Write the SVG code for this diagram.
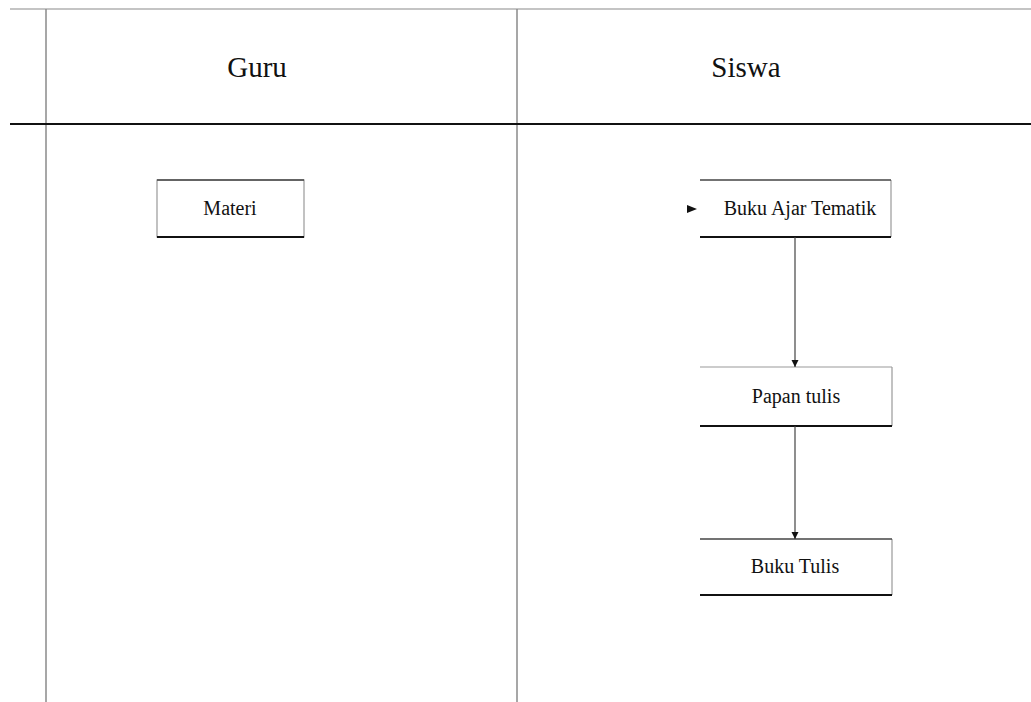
<svg xmlns="http://www.w3.org/2000/svg" width="1031" height="702" viewBox="0 0 1031 702">
  <style>
    .lane { stroke: #8a8a8a; stroke-width: 1.5; fill: none; }
    .frame { stroke: #b0b0b0; stroke-width: 1.5; fill: none; }
    .header-rule { stroke: #111; stroke-width: 2.2; }
    .title { font-family: "Liberation Serif", "Times New Roman", serif; font-size: 29px; fill: #111; text-anchor: middle; }
    .label { font-family: "Liberation Serif", "Times New Roman", serif; font-size: 20px; fill: #111; text-anchor: middle; }
    .box-side { stroke: #999; stroke-width: 1.2; fill: none; }
    .box-top { stroke: #444; stroke-width: 1.6; }
    .box-bottom { stroke: #111; stroke-width: 2; }
    .flow { stroke: #444; stroke-width: 1.2; fill: none; }
  </style>
  <defs>
    <marker id="arrow" viewBox="0 0 10 10" refX="10" refY="5" markerWidth="7" markerHeight="8" orient="auto-start-reverse" markerUnits="userSpaceOnUse">
      <path d="M0,0 L10,5 L0,10 Z" fill="#111"/>
    </marker>
  </defs>

  <rect width="1031" height="702" fill="#ffffff"/>

  <!-- swimlane frame -->
  <g id="lanes">
    <line class="frame" x1="10" y1="9" x2="1031" y2="9"/>
    <line class="lane" x1="46" y1="9" x2="46" y2="702"/>
    <line class="lane" x1="517" y1="9" x2="517" y2="702"/>
    <line class="header-rule" x1="10" y1="124" x2="1031" y2="124"/>
    <text class="title" x="257" y="77">Guru</text>
    <text class="title" x="746" y="77">Siswa</text>
  </g>

  <g id="node-materi">
    <rect class="box-side" x="157" y="180" width="147" height="57"/>
    <line class="box-top" x1="157" y1="180" x2="304" y2="180"/>
    <line class="box-bottom" x1="157" y1="237" x2="304" y2="237"/>
    <text class="label" x="230" y="215">Materi</text>
  </g>

  <g id="node-buku-ajar">
    <line class="box-side" x1="891" y1="180" x2="891" y2="237"/>
    <line class="box-top" x1="700" y1="180" x2="891" y2="180"/>
    <line class="box-bottom" x1="700" y1="237" x2="891" y2="237"/>
    <text class="label" x="800" y="215">Buku Ajar Tematik</text>
  </g>

  <g id="node-papan-tulis">
    <line class="box-side" x1="892" y1="367" x2="892" y2="426"/>
    <line class="box-side" x1="700" y1="367" x2="892" y2="367"/>
    <line class="box-bottom" x1="700" y1="426" x2="892" y2="426"/>
    <text class="label" x="796" y="403">Papan tulis</text>
  </g>

  <g id="node-buku-tulis">
    <line class="box-side" x1="892" y1="539" x2="892" y2="595"/>
    <line class="box-top" x1="700" y1="539" x2="892" y2="539"/>
    <line class="box-bottom" x1="700" y1="595" x2="892" y2="595"/>
    <text class="label" x="795" y="573">Buku Tulis</text>
  </g>

  <g id="connectors">
    <path d="M687,205 L697,209 L687,213 Z" fill="#111"/>
    <line class="flow" x1="795" y1="237" x2="795" y2="367" marker-end="url(#arrow)"/>
    <line class="flow" x1="795" y1="426" x2="795" y2="539" marker-end="url(#arrow)"/>
  </g>
</svg>
